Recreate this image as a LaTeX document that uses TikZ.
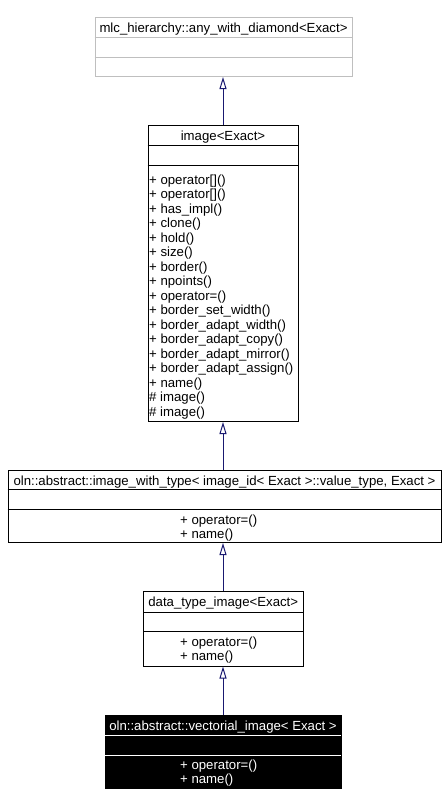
\documentclass[tikz,border=0pt]{standalone}
\usepackage{fontspec}
\setmainfont{Liberation Sans}
\usetikzlibrary{arrows.meta}
\definecolor{arrowblue}{HTML}{191970}
\definecolor{greyborder}{HTML}{BFBFBF}
\begin{document}
\begin{tikzpicture}[x=1pt,y=-1pt,
  box/.style={draw=black, line width=1pt, fill=white, inner sep=0pt},
  txt/.style={inner sep=0pt, anchor=base, font=\fontsize{13.2}{14.5}\selectfont},
  mem/.style={inner sep=0pt, anchor=base west, font=\fontsize{13.2}{14.5}\selectfont},
  sep/.style={draw=black, line width=1pt},
  inh/.style={draw=arrowblue, line width=1pt, -{Triangle[open, length=12pt, width=7pt]}}]
\useasboundingbox[fill=white] (0,0) rectangle (444,806);

% box 1
\node[box, draw=greyborder, minimum width=257, minimum height=59] (b1) at (223.5,47) {};
\draw[sep, draw=greyborder] (b1.west |- 0,37.5) -- (b1.east |- 0,37.5);
\draw[sep, draw=greyborder] (b1.west |- 0,57.5) -- (b1.east |- 0,57.5);
\node[txt] (t1) at (223.5,32.5) {mlc\_hierarchy::any\_with\_diamond<Exact>};

% box 2
\node[box, minimum width=150, minimum height=296] (b2) at (223,273.5) {};
\draw[sep] (b2.west |- 0,145.5) -- (b2.east |- 0,145.5);
\draw[sep] (b2.west |- 0,165.5) -- (b2.east |- 0,165.5);
\node[txt] (t2) at (223,140.5) {image<Exact>};
\foreach \t [count=\i from 0] in {{+ operator[]()},{+ operator[]()},{+ has\_impl()},{+ clone()},{+ hold()},{+ size()},{+ border()},{+ npoints()},{+ operator=()},{+ border\_set\_width()},{+ border\_adapt\_width()},{+ border\_adapt\_copy()},{+ border\_adapt\_mirror()},{+ border\_adapt\_assign()},{+ name()},{\# image()},{\# image()}}
  \node[mem] (m\i) at (149,184+14.52*\i) {\t};

% box 3
\node[box, minimum width=433, minimum height=72] (b3) at (224.5,506.5) {};
\draw[sep] (b3.west |- 0,489.5) -- (b3.east |- 0,489.5);
\draw[sep] (b3.west |- 0,509.5) -- (b3.east |- 0,509.5);
\node[txt] (t3) at (224.5,485) {oln::abstract::image\_with\_type< image\_id< Exact >::value\_type, Exact >};
\node[mem] (m3a) at (180,524) {+ operator=()};
\node[mem] (m3b) at (180,538) {+ name()};

% box 4
\node[box, minimum width=159.5, minimum height=74.5] (b4) at (223.25,628.75) {};
\draw[sep] (b4.west |- 0,612) -- (b4.east |- 0,612);
\draw[sep] (b4.west |- 0,631.7) -- (b4.east |- 0,631.7);
\node[txt] (t4) at (223.25,606.5) {data\_type\_image<Exact>};
\node[mem] (m4a) at (180,646.5) {+ operator=()};
\node[mem] (m4b) at (180,660.5) {+ name()};

% box 5
\node[box, fill=black, minimum width=236, minimum height=73] (b5) at (223,751.5) {};
\draw[sep, draw=white] ([xshift=0.5pt]b5.west |- 0,735) -- ([xshift=-0.5pt]b5.east |- 0,735);
\draw[sep, draw=white] ([xshift=0.5pt]b5.west |- 0,755) -- ([xshift=-0.5pt]b5.east |- 0,755);
\node[txt, text=white] (t5) at (223,730) {oln::abstract::vectorial\_image< Exact >};
\node[mem, text=white] (m5a) at (180,769.5) {+ operator=()};
\node[mem, text=white] (m5b) at (180,783.5) {+ name()};

% inheritance connectors
\coordinate (a3) at (b3.north -| b2.south);
\coordinate (a4) at (b4.north -| b2.south);
\draw[inh] (b2.north) -- (b2.north |- b1.south);
\draw[inh] (a3) -- (b2.south);
\draw[inh] (a4) -- (a4 |- b3.south);
\draw[inh] (b5.north) -- (b5.north |- b4.south);
\end{tikzpicture}
\end{document}
